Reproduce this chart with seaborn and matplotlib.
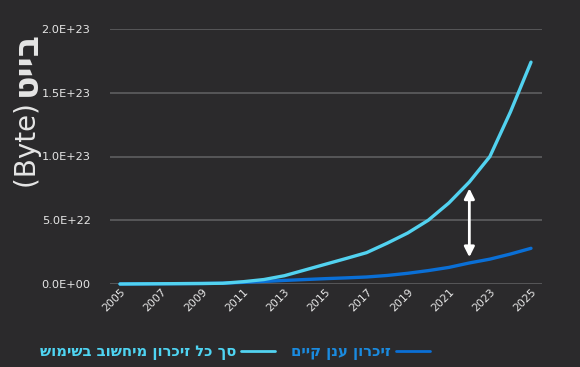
import matplotlib
matplotlib.use("Agg")
import matplotlib.pyplot as plt
import seaborn as sns
import pandas as pd
from matplotlib.ticker import FuncFormatter
from matplotlib.lines import Line2D

years = list(range(2005, 2026))
total_e21 = [0, 0.1, 0.2, 0.3, 0.4, 0.6, 1.8, 3.5, 6.5, 11, 15.5, 20, 24.6, 32, 40, 50, 63.5, 80, 100, 135, 174]
cloud_e21 = [0, 0.1, 0.2, 0.3, 0.4, 0.6, 1.3, 2.0, 2.8, 3.5, 4.2, 4.8, 5.5, 6.7, 8.4, 10.5, 13, 16.5, 19.5, 23.5, 28]
series_total = "סך כל זיכרון מיחשוב בשימוש"
series_cloud = "זיכרון ענן קיים"
ylabel_latin = "(Byte) "
ylabel_hebrew = "בייט"
yticks = [0, 5e22, 1e23, 1.5e23, 2e23]
xticks = list(range(2005, 2026, 2))
arrow_year = 2022
arrow_from = 2.1e22
arrow_to = 7.5e22

def vis(s):
    # matplotlib lays glyphs out left-to-right, so give it the visual order
    return s[::-1]

BG = "#2b2a2c"
C_TOTAL = "#52d2f0"
C_CLOUD = "#0a6fd6"
TXT = "#e6e6e6"

df = pd.DataFrame({
    "year": years * 2,
    "value": [v * 1e21 for v in total_e21] + [v * 1e21 for v in cloud_e21],
    "series": [series_total] * len(years) + [series_cloud] * len(years),
})

sns.set_theme(style="dark")
plt.rcParams["font.family"] = ["DejaVu Sans"]

fig = plt.figure(figsize=(5.8, 3.67), dpi=100, facecolor=BG)
ax = fig.add_axes([110 / 580, 1 - 284 / 367, 432 / 580, 255 / 367])
ax.set_facecolor(BG)

sns.lineplot(data=df, x="year", y="value", hue="series",
             palette={series_total: C_TOTAL, series_cloud: C_CLOUD},
             hue_order=[series_cloud, series_total],
             linewidth=2.4, ax=ax, legend=False, clip_on=False)
for ln in ax.get_lines():
    ln.set_solid_capstyle("round")
    ln.set_solid_joinstyle("round")

ax.set_xlim(2005 - 10 / 20.55, 2025 + 11 / 20.55)
ax.set_ylim(0, 2e23)
ax.set_yticks(yticks)
ax.set_xticks(xticks)
ax.yaxis.set_major_formatter(FuncFormatter(lambda v, p: f"{v:.1E}"))
ax.grid(axis="y", color="#5e5e60", linewidth=1.2)
ax.grid(axis="x", visible=False)
ax.set_axisbelow(True)
for s in ax.spines.values():
    s.set_visible(False)
ax.tick_params(axis="y", colors=TXT, labelsize=8.2, length=0, pad=14)
ax.tick_params(axis="x", colors=TXT, labelsize=7.8, length=0, pad=2)
for lab in ax.get_xticklabels():
    lab.set_rotation(45)
    lab.set_ha("right")
    lab.set_rotation_mode("anchor")
ax.set_xlabel("")
ax.set_ylabel("")

ax.annotate("", xy=(arrow_year, arrow_to), xytext=(arrow_year, arrow_from),
            arrowprops=dict(arrowstyle="<|-|>", color="white", lw=2,
                            mutation_scale=15, shrinkA=0, shrinkB=0))

# y label: "(Byte) " regular + Hebrew bold, rotated
t1 = fig.text(28 / 580, 1 - 188 / 367, ylabel_latin, rotation=90, color=TXT,
              fontsize=20, ha="center", va="bottom")
fig.canvas.draw()
bb = t1.get_window_extent()
top = bb.y1 / fig.bbox.height
fig.text(26 / 580, top - 0.005, vis(ylabel_hebrew), rotation=90, color=TXT,
         fontsize=25, fontweight="bold", ha="center", va="bottom")

handles = [Line2D([], [], color=C_TOTAL, lw=2), Line2D([], [], color=C_CLOUD, lw=2)]
leg = fig.legend(handles, [vis(series_total), vis(series_cloud)], ncol=2,
                 loc="center", bbox_to_anchor=(0.405, 0.04), frameon=False,
                 markerfirst=False, handlelength=2.3, columnspacing=1.1,
                 handletextpad=0.35,
                 prop={"weight": "bold", "size": 10.6})
for txt, c in zip(leg.get_texts(), ["#4fd4f2", "#1a8be0"]):
    txt.set_color(c)

fig.savefig("out.png", dpi=100, facecolor=BG)
